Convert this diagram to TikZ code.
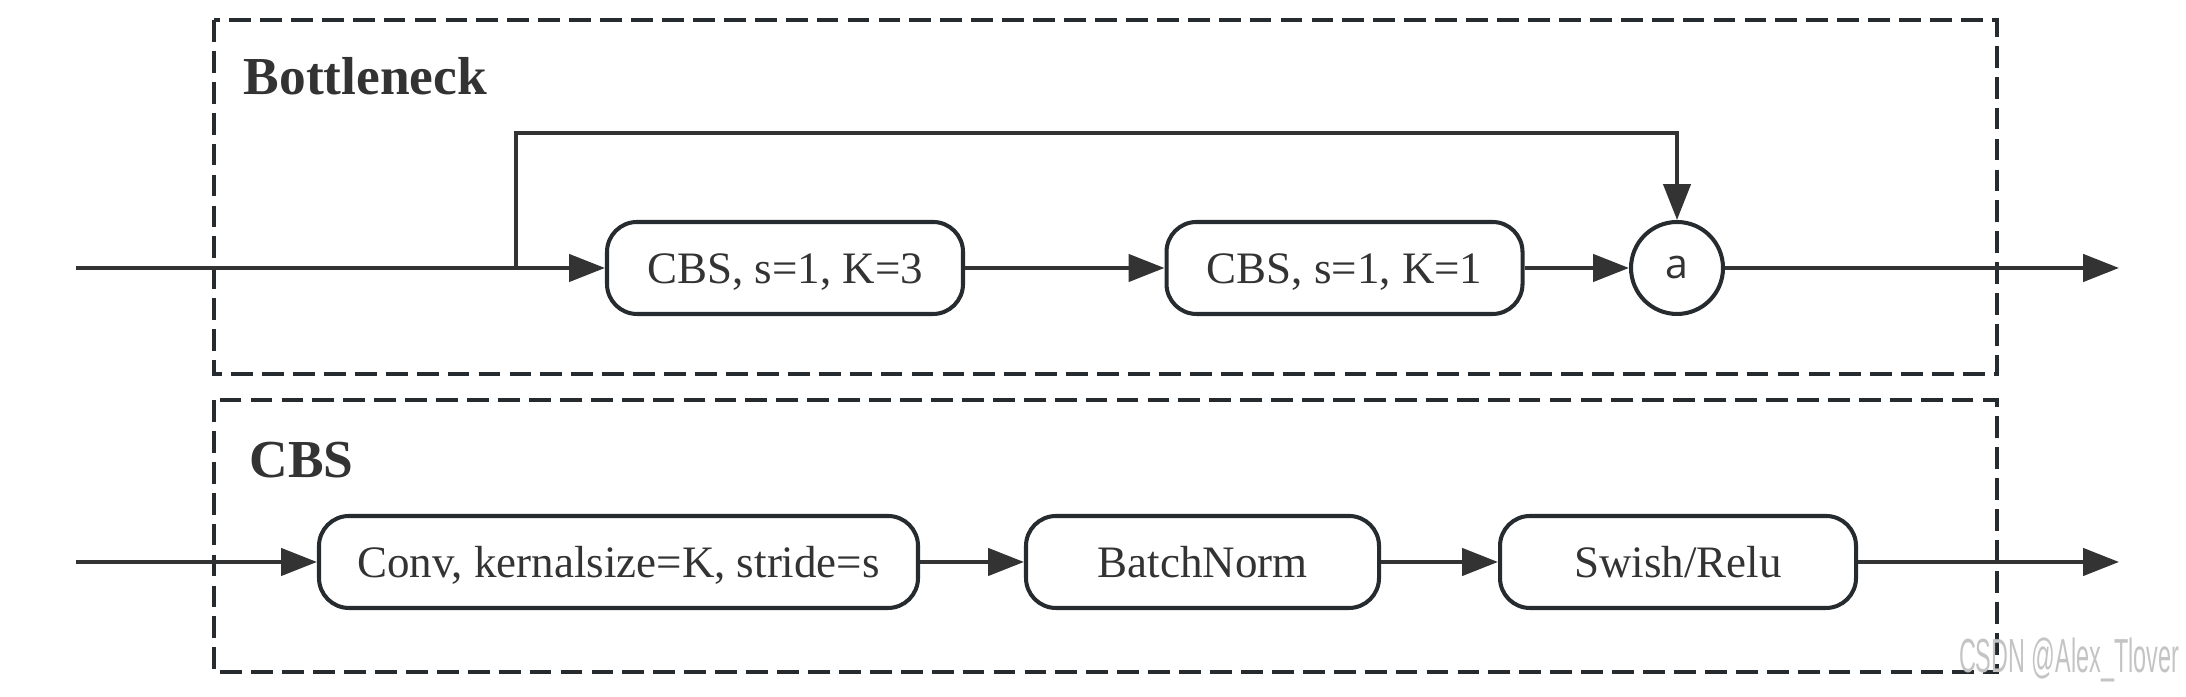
\documentclass[tikz,border=0pt]{standalone}
\usepackage{fontspec}
\setmainfont{Liberation Serif}
\newfontfamily\addfont{Open Sans}
\newfontfamily\markfont{Liberation Sans}
\usetikzlibrary{arrows.meta}
\definecolor{inkgray}{HTML}{333333}
\definecolor{framegray}{HTML}{262B30}
\definecolor{markgray}{HTML}{C4C4C4}

\tikzset{
    block/.style={draw=framegray, line width=1.15pt, rounded corners=0.3cm, minimum width=3.56cm, minimum height=0.92cm, inner sep=0pt, text=inkgray, font=\fontsize{12.8}{15}\selectfont, text height=0.88em, text depth=0pt},
    addnode/.style={circle, draw=framegray, line width=1.15pt, minimum size=0.92cm, inner sep=0pt, text=inkgray, font=\addfont\fontsize{11.7}{14}\selectfont},
    flow/.style={draw=inkgray, line width=1.15pt, -{Triangle[length=10.2pt,width=7.7pt]}},
    frame/.style={draw=framegray, line width=1pt, dash pattern=on 6.2pt off 2.6pt},
    title/.style={font=\bfseries\fontsize{15.2}{18}\selectfont, text=inkgray, anchor=base west, inner sep=0pt}
}

\begin{document}
\begin{tikzpicture}
    \useasboundingbox (0,0) rectangle (21.86,6.97);
    % Dashed frames
    \draw[frame] (2.14,6.77) rectangle (19.97,3.23); % Bottleneck frame
    \draw[frame] (2.14,2.97) rectangle (19.97,0.25); % CBS frame
    \node[title] (bnTitle) at (2.43,6.02) {Bottleneck};
    \node[title] (cbsTitle) at (2.49,2.19) {CBS};
    % Bottleneck row
    \coordinate (bnIn) at (0.76,4.29);
    \coordinate (bnSplit) at (5.16,4.29);
    \coordinate (bnSkip) at (5.16,5.64);
    \coordinate (bnOut) at (21.19,4.29);
    \node[block] (cbsA) at (7.85,4.29) {CBS, s=1, K=3};
    \node[block] (cbsB) at (13.445,4.29) {CBS, s=1, K=1};
    \node[addnode] (add) at (16.77,4.29) {a};
    \draw[flow] (bnIn) -- (cbsA);
    \draw[flow] (cbsA) -- (cbsB);
    \draw[flow] (cbsB) -- (add);
    \draw[flow] (add) -- (bnOut);
    \draw[flow] (bnSplit) -- (bnSkip) -| (add); % Shortcut
    % CBS row
    \coordinate (cbsIn) at (0.76,1.35);
    \coordinate (cbsOut) at (21.19,1.35);
    \node[block, minimum width=5.99cm] (conv) at (6.185,1.35) {Conv, kernalsize=K, stride=s};
    \node[block, minimum width=3.53cm] (bn) at (12.025,1.35) {BatchNorm};
    \node[block] (act) at (16.78,1.35) {Swish/Relu};
    \draw[flow] (cbsIn) -- (conv);
    \draw[flow] (conv) -- (bn);
    \draw[flow] (bn) -- (act);
    \draw[flow] (act) -- (cbsOut);
    % Watermark
    \node[anchor=base east, inner sep=0pt, text=markgray, font=\markfont\fontsize{13.6}{16}\selectfont] (mark) at (21.8,0.24) {\scalebox{0.49}[1]{CSDN @Alex\_Tlover}};
\end{tikzpicture}
\end{document}
